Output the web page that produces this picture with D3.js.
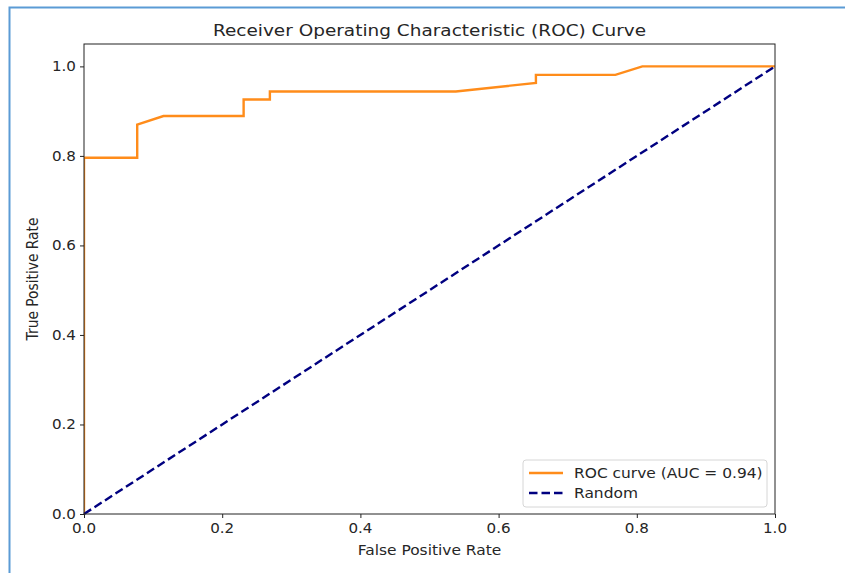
<!DOCTYPE html>
<html>
<head>
<meta charset="utf-8">
<script src="https://cdn.jsdelivr.net/npm/d3@7/dist/d3.min.js"></script>
<style>
  body { margin: 0; background: #fff; }
  text { font-family: "DejaVu Sans", sans-serif; fill: #262626; }
</style>
</head>
<body>
<svg id="chart" width="845" height="573"></svg>
<script>
// ROC points
const fpr = [0, 0, 0.077, 0.077, 0.115, 0.231, 0.231, 0.269, 0.269, 0.538, 0.654, 0.654, 0.769, 0.808, 1.0];
const tpr = [0, 0.796, 0.796, 0.870, 0.889, 0.889, 0.926, 0.926, 0.944, 0.944, 0.963, 0.981, 0.981, 1.0, 1.0];
const randomLine = [[0, 0], [1, 1]];
const tickValues = [0, 0.2, 0.4, 0.6, 0.8, 1.0];
const legendLabels = ["ROC curve (AUC = 0.94)", "Random"];

// the screenshot is a bit wider than tall, so text gets a small x stretch
const SX = 1.12;

const svg = d3.select("#chart");
const margin = { left: 84, right: 845 - 775, top: 44, bottom: 573 - 514 };
const width = 845 - margin.left - margin.right;
const height = 573 - margin.top - margin.bottom;

function label(parent, x, y, str, size, anchor, rotate) {
  return parent.append("text")
    .attr("transform", `translate(${x},${y})` + (rotate ? ` rotate(${rotate}) scale(1,${SX})` : ` scale(${SX},1)`))
    .attr("text-anchor", anchor || "start")
    .style("font-size", size + "px")
    .text(str);
}

// frame border of the screenshot
svg.append("path")
  .attr("d", "M9.5,573 V7.5 H845")
  .attr("fill", "none")
  .attr("stroke", "#5b9bd5")
  .attr("stroke-width", 2);

const x = d3.scaleLinear().domain([0, 1]).range([margin.left, margin.left + width]);
const y = d3.scaleLinear().domain([0, 1.05]).range([margin.top + height, margin.top]);

const g = svg.append("g");

g.append("defs").append("clipPath").attr("id", "clip")
  .append("rect")
  .attr("x", margin.left).attr("y", margin.top)
  .attr("width", width).attr("height", height);

const line = d3.line().x((d) => x(d[0])).y((d) => y(d[1]));

g.append("path")
  .datum(fpr.map((f, i) => [f, tpr[i]]))
  .attr("clip-path", "url(#clip)")
  .attr("d", line)
  .attr("fill", "none")
  .attr("stroke", "#ff8c1a")
  .attr("stroke-width", 2.4);

g.append("path")
  .datum(randomLine)
  .attr("d", line)
  .attr("fill", "none")
  .attr("stroke", "#000080")
  .attr("stroke-width", 2.4)
  .attr("stroke-dasharray", "8.5,4");

// axes, labels drawn by hand so they can be stretched like the rest
const xAxis = g.append("g")
  .attr("transform", `translate(0,${margin.top + height})`)
  .call(d3.axisBottom(x).tickValues(tickValues).tickFormat("").tickSize(4));
const yAxis = g.append("g")
  .attr("transform", `translate(${margin.left},0)`)
  .call(d3.axisLeft(y).tickValues(tickValues).tickFormat("").tickSize(4));
[xAxis, yAxis].forEach((a) => {
  a.select(".domain").remove();
  a.selectAll("line").attr("stroke", "#222");
});
const fmt = d3.format(".1f");
tickValues.forEach((v) => {
  label(g, x(v), margin.top + height + 19, fmt(v), 13.5, "middle");
  label(g, margin.left - 8, y(v) + 5, fmt(v), 13.5, "end");
});

g.append("rect")
  .attr("x", margin.left).attr("y", margin.top)
  .attr("width", width).attr("height", height)
  .attr("fill", "none")
  .attr("stroke", "#222")
  .attr("stroke-width", 1);

label(svg, margin.left + width / 2, 36, "Receiver Operating Characteristic (ROC) Curve", 16.5, "middle");
label(svg, margin.left + width / 2, 555, "False Positive Rate", 13.8, "middle");
label(svg, 38, margin.top + height / 2, "True Positive Rate", 13.8, "middle", -90);

// legend
const legend = svg.append("g").attr("transform", "translate(523,460)");
legend.append("rect")
  .attr("width", 244).attr("height", 47).attr("rx", 3)
  .attr("fill", "#fff").attr("fill-opacity", 0.8)
  .attr("stroke", "#d6d6d6");
const styles = [
  { color: "#ff8c1a", dash: null },
  { color: "#000080", dash: "8.5,4" },
];
legendLabels.forEach((txt, i) => {
  const row = legend.append("g").attr("transform", `translate(0,${13 + i * 20})`);
  row.append("line")
    .attr("x1", 6).attr("x2", 40)
    .attr("stroke", styles[i].color)
    .attr("stroke-width", 2.4)
    .attr("stroke-dasharray", styles[i].dash);
  label(row, 51, 5, txt, 13.8);
});
</script>
</body>
</html>
